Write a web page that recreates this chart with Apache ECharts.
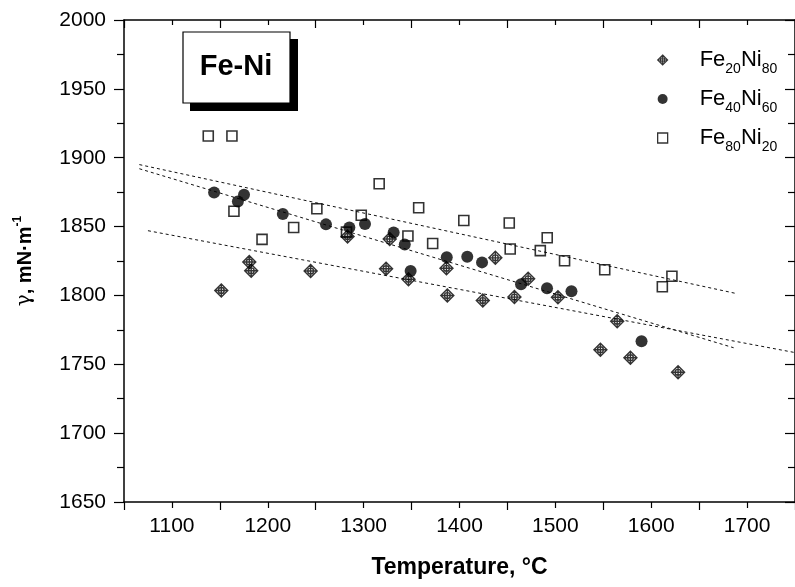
<!DOCTYPE html>
<html>
<head>
<meta charset="utf-8">
<script src="https://cdn.jsdelivr.net/npm/echarts@6/dist/echarts.min.js"></script>
<style>
html,body{margin:0;padding:0;background:#fff}
#c1{width:795px;height:587px}
</style>
</head>
<body>
<div id="c1"></div>
<script>
// Fe20Ni80
var fe20T = [1151.5,1180.7,1182.7,1244.7,1283.2,1323.4,1327.2,1346.8,1386.4,1387.3,1424.3,1437.4,1457.3,1471.6,1502.7,1564.5,1547,1578.3,1628];
var fe20G = [1803.6,1824.3,1817.9,1817.7,1842.8,1819.4,1841,1811.8,1819.7,1799.9,1796.3,1827.3,1798.8,1812.1,1798.7,1781.2,1760.6,1754.8,1744.2];
// Fe40Ni60
var fe40T = [1144,1168.8,1175.2,1215.7,1260.7,1285.1,1301.4,1331.3,1342.9,1349,1386.7,1408.1,1423.5,1464.2,1491.3,1516.8,1589.9];
var fe40G = [1874.7,1868.2,1873.1,1859.1,1851.6,1849.3,1851.9,1845.7,1837,1817.7,1827.7,1828.1,1824,1808.1,1805.2,1803,1766.7];
// Fe80Ni20
var fe80T = [1137.9,1162.6,1164.7,1194,1227,1251.2,1282.1,1297.5,1316.2,1346.2,1357.4,1372,1404.5,1451.9,1452.9,1484.3,1491.5,1509.6,1551.5,1611.6,1621.6];
var fe80G = [1915.8,1915.8,1861.1,1840.7,1849.3,1862.9,1846,1858.2,1881.1,1843.1,1863.7,1837.7,1854.4,1852.6,1833.7,1832.5,1841.9,1825.2,1818.7,1806.3,1813.9];
// linear fits (end points)
var fit20T = [1075, 1750];
var fit20G = [1847, 1758.5];
var fit40T = [1066, 1686];
var fit40G = [1892, 1762];
var fit80T = [1066, 1688];
var fit80G = [1895, 1801.5];

var names = ['Fe20Ni80', 'Fe40Ni60', 'Fe80Ni20'];

function pairs(xs, ys) {
    var out = [];
    for (var i = 0; i < xs.length; i++) out.push([xs[i], ys[i]]);
    return out;
}

var FONT = '"Liberation Sans", Arial, sans-serif';
var diamondCross = 'path://M0,-10L10,0L0,10L-10,0Z M0,-10L0,10 M-10,0L10,0 M4.5,0A4.5,4.5 0 1 1 -4.5,0A4.5,4.5 0 1 1 4.5,0';
var squareIcon = 'path://M0,0L10,0L10,10L0,10Z';

var chartDom = document.getElementById('c1');
var myChart = echarts.init(chartDom);

function fitLine(xs, ys) {
    return {
        type: 'line',
        data: pairs(xs, ys),
        symbol: 'none',
        silent: true,
        lineStyle: { color: '#111', width: 1, type: [3, 3] },
        z: 1
    };
}

function plain(v) { return String(v); }

var option = {
    animation: false,
    backgroundColor: '#fff',
    grid: { left: 124, right: -8, top: 20, bottom: 85 },
    legend: {
        orient: 'vertical',
        left: 652,
        top: 44,
        itemWidth: 16,
        itemHeight: 10,
        itemGap: 7,
        data: [
            { name: names[0], icon: diamondCross, itemStyle: { color: 'rgba(0,0,0,0)', borderColor: '#000', borderWidth: 1.1 } },
            { name: names[1], icon: 'circle', itemStyle: { color: '#000', borderWidth: 0 } },
            { name: names[2], icon: squareIcon, itemStyle: { color: 'rgba(0,0,0,0)', borderColor: '#000', borderWidth: 1.3 } }
        ],
        formatter: function (name) {
            var m = name.match(/Fe(\d+)Ni(\d+)/);
            return '{sp|}{m|Fe}{s|' + m[1] + '}{m|Ni}{s|' + m[2] + '}';
        },
        textStyle: {
            rich: {
                sp: { width: 24, lineHeight: 32 },
                m: { fontSize: 22, fontFamily: FONT, color: '#000', lineHeight: 32 },
                s: { fontSize: 14, fontFamily: FONT, color: '#000', lineHeight: 32, verticalAlign: 'bottom' }
            }
        },
        itemGap: 7.5
    },
    xAxis: [{
        type: 'value',
        min: 1050, max: 1750, interval: 100,
        name: 'Temperature, °C',
        nameLocation: 'middle',
        nameGap: 54,
        nameTextStyle: { fontSize: 23, fontWeight: 'bold', fontFamily: FONT, color: '#000' },
        axisLine: { show: true, onZero: false, lineStyle: { color: '#000', width: 1.5 } },
        axisTick: { show: true, inside: false, length: 8, lineStyle: { color: '#000', width: 1.2 } },
        minorTick: { show: true, splitNumber: 2, length: 6, lineStyle: { color: '#000', width: 1.2 } },
        axisLabel: {
            fontSize: 21, fontFamily: FONT, color: '#000', margin: 14,
            formatter: plain,
            customValues: [1100, 1200, 1300, 1400, 1500, 1600, 1700]
        },
        splitLine: { show: false }
    }, {
        type: 'value',
        position: 'top',
        min: 1050, max: 1750, interval: 100,
        axisLine: { show: true, onZero: false, lineStyle: { color: '#000', width: 1.5 } },
        axisTick: { show: true, inside: true, length: 8, lineStyle: { color: '#000', width: 1.2 } },
        minorTick: { show: true, splitNumber: 2, length: 5, lineStyle: { color: '#000', width: 1.2 } },
        axisLabel: { show: false },
        splitLine: { show: false }
    }],
    yAxis: [{
        type: 'value',
        min: 1650, max: 2000, interval: 50,
        name: '{g|γ}{b|, mN·m}{p|-1}',
        nameLocation: 'middle',
        nameGap: 86,
        nameTextStyle: {
            rich: {
                g: { fontSize: 20, fontFamily: '"DejaVu Serif", serif', color: '#000', lineHeight: 26 },
                b: { fontSize: 20, fontWeight: 'bold', fontFamily: FONT, color: '#000', lineHeight: 26 },
                p: { fontSize: 12, fontWeight: 'bold', fontFamily: FONT, color: '#000', lineHeight: 26, verticalAlign: 'top' }
            }
        },
        axisLine: { show: true, onZero: false, lineStyle: { color: '#000', width: 1.5 } },
        axisTick: { show: true, inside: false, length: 10, lineStyle: { color: '#000', width: 1.2 } },
        minorTick: { show: true, splitNumber: 2, length: 7, lineStyle: { color: '#000', width: 1.2 } },
        axisLabel: { fontSize: 21, fontFamily: FONT, color: '#000', margin: 18, formatter: plain },
        splitLine: { show: false }
    }, {
        type: 'value',
        position: 'right',
        min: 1650, max: 2000, interval: 50,
        axisLine: { show: true, onZero: false, lineStyle: { color: '#000', width: 1.5 } },
        axisTick: { show: true, inside: true, length: 10, lineStyle: { color: '#000', width: 1.2 } },
        minorTick: { show: true, splitNumber: 2, length: 7, lineStyle: { color: '#000', width: 1.2 } },
        axisLabel: { show: false },
        splitLine: { show: false }
    }],
    graphic: [
        { type: 'rect', shape: { x: 190, y: 39, width: 108, height: 72 }, style: { fill: '#000' }, z: 10 },
        { type: 'rect', shape: { x: 183, y: 32, width: 107, height: 71 }, style: { fill: '#fff', stroke: '#000', lineWidth: 1.2 }, z: 11 },
        { type: 'text', x: 236, y: 67, z: 12,
          style: { text: 'Fe-Ni', font: 'bold 29px ' + FONT, fill: '#000', textAlign: 'center', textVerticalAlign: 'middle' } }
    ],
    series: [
        fitLine(fit20T, fit20G),
        fitLine(fit40T, fit40G),
        fitLine(fit80T, fit80G),
        {
            name: names[0],
            type: 'scatter',
            data: pairs(fe20T, fe20G),
            symbol: diamondCross,
            symbolSize: 13,
            itemStyle: { color: 'rgba(0,0,0,0)', borderColor: '#000', borderWidth: 1.4 },
            z: 3
        },
        {
            name: names[1],
            type: 'scatter',
            data: pairs(fe40T, fe40G),
            symbol: 'circle',
            symbolSize: 12,
            itemStyle: { color: '#000' },
            z: 4
        },
        {
            name: names[2],
            type: 'scatter',
            data: pairs(fe80T, fe80G),
            symbol: 'rect',
            symbolSize: 10,
            itemStyle: { color: 'rgba(255,255,255,0)', borderColor: '#000', borderWidth: 1.6 },
            z: 5
        }
    ]
};
option.legend.itemGap = 12;

myChart.setOption(option);
</script>
</body>
</html>
